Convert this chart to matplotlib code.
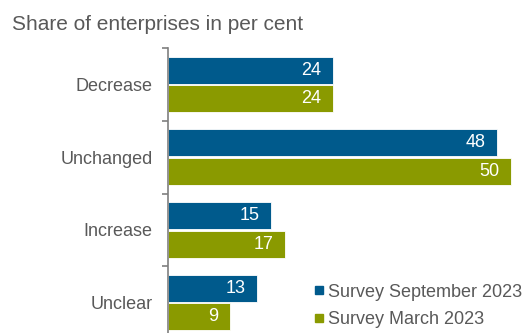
import matplotlib.pyplot as plt
import numpy as np
from matplotlib.lines import Line2D

plt.rcParams["font.family"] = ["Liberation Sans", "DejaVu Sans"]

categories = ["Decrease", "Unchanged", "Increase", "Unclear"]
sep_2023 = [24, 48, 15, 13]
mar_2023 = [24, 50, 17, 9]
series_names = ["Survey September 2023", "Survey March 2023"]

BLUE = "#005A8C"
GREEN = "#8A9A00"
GREY = "#595959"

fig = plt.figure(figsize=(5.28, 3.33), dpi=100)
ax = fig.add_axes([168 / 528, -6 / 333, 1 - 168 / 528, 291 / 333])

y = np.arange(len(categories))
h = 0.37
off = 0.195
for vals, dy, col in [(sep_2023, -off, BLUE), (mar_2023, off, GREEN)]:
    bars = ax.barh(y + dy, vals, height=h, color=col, edgecolor="white", linewidth=0.6)
    for b, v in zip(bars, vals):
        ax.annotate(str(v), (v, b.get_y() + b.get_height() / 2),
                    xytext=(-8, 0), textcoords="offset points",
                    ha="right", va="center", color="white", fontsize=13)

ax.set_xlim(0, 52.5)
ax.set_ylim(len(categories) - 0.5, -0.5)

for s in ["top", "right", "bottom"]:
    ax.spines[s].set_visible(False)
ax.spines["left"].set_color("#7F7F7F")
ax.spines["left"].set_linewidth(1.2)
ax.set_xticks([])
ax.set_yticks(y)
ax.set_yticklabels(categories, color=GREY, fontsize=13)
ax.tick_params(axis="y", which="major", length=0, pad=11)
ax.set_yticks(np.arange(len(categories) + 1) - 0.5, minor=True)
ax.tick_params(axis="y", which="minor", length=4, color="#7F7F7F", width=1.2)

fig.text(12 / 528, 1 - 24 / 333, "Share of enterprises in per cent",
         color=GREY, fontsize=15, va="center", ha="left")

handles = [Line2D([], [], marker="s", linestyle="none", markersize=5.5,
                  markerfacecolor=c, markeredgecolor=c) for c in (BLUE, GREEN)]
fig.legend(handles, series_names, loc="lower left",
           bbox_to_anchor=(302 / 528, -8 / 333), frameon=False, fontsize=13,
           labelcolor=GREY, handlelength=0.5, handletextpad=0.25,
           labelspacing=0.6, borderpad=0.2)

fig.savefig("out.png", dpi=100)
